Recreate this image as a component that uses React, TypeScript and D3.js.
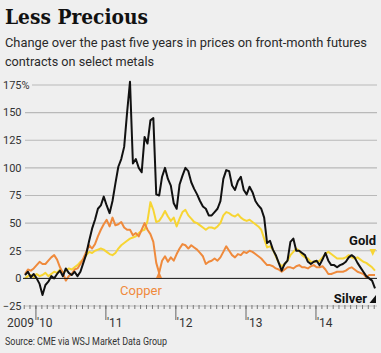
import React from "react";
import * as d3 from "d3";

const START = new Date(2009, 10, 5);
const END = new Date(2014, 10, 5);

const silver = [3, 6, 1, 4, 0, -5, -15, -6, -3, 2, 0, 4, 7, 2, 9, 5, 3, 6, 2, 6,
  14, 22, 34, 45, 53, 63, 66, 74, 66, 59, 70, 86, 101, 108, 119, 150, 178, 104, 108, 100,
  96, 128, 122, 143, 145, 76, 75, 92, 100, 90, 84, 68, 63, 85, 93, 100, 97, 87, 81, 76,
  70, 65, 63, 57, 57, 60, 63, 70, 90, 98, 97, 84, 80, 88, 92, 80, 76, 83, 78, 70,
  66, 63, 55, 32, 34, 26, 21, 14, 7, 13, 16, 33, 36, 25, 25, 23, 21, 15, 13, 15,
  16, 12, 17, 23, 16, 12, 12, 10, 12, 13, 15, 19, 21, 19, 14, 10, 6, 2, 0, -2, -9];

const gold = [0, 2, 3, 1, 4, 2, 3, 5, 2, 4, 6, 5, 8, 5, 7, 9, 8, 10, 12, 15,
  17, 21, 24, 23, 25, 26, 27, 26, 24, 22, 21, 23, 27, 30, 32, 34, 36, 37, 38, 41,
  43, 44, 52, 69, 62, 51, 52, 56, 61, 56, 52, 55, 47, 54, 60, 62, 57, 54, 51, 50,
  48, 46, 44, 46, 46, 45, 47, 50, 57, 60, 59, 57, 56, 58, 55, 53, 52, 53, 51, 49,
  47, 44, 36, 28, 29, 26, 20, 14, 11, 13, 16, 21, 24, 27, 25, 21, 19, 18, 15, 15,
  15, 16, 19, 22, 24, 22, 20, 18, 18, 18, 19, 21, 19, 18, 19, 17, 15, 14, 12, 10, 7];

const copper = [4, 8, 7, 9, 12, 15, 13, 13, 16, 19, 21, 17, 10, 5, -2, 2, 4, 8, 9, 13,
  18, 24, 30, 27, 31, 38, 44, 49, 53, 47, 55, 48, 49, 51, 46, 44, 44, 39, 41, 38,
  44, 50, 44, 40, 33, 14, 5, 16, 20, 15, 19, 16, 22, 27, 31, 30, 27, 30, 28, 26,
  23, 20, 13, 15, 16, 18, 16, 19, 24, 29, 25, 21, 19, 22, 21, 24, 23, 25, 24, 22,
  20, 18, 15, 12, 12, 11, 9, 8, 6, 8, 10, 10, 9, 11, 12, 10, 10, 9, 11, 12,
  10, 10, 11, 8, 4, 4, 5, 6, 6, 6, 7, 9, 10, 8, 6, 5, 4, 1, 3, 3, 3];

const yTicks = [175, 150, 125, 100, 75, 50, 25, 0, -25];
const yearTicks = [2010, 2011, 2012, 2013, 2014];
const yearLabels = ["'10", "'11", "'12", "'13", "'14"];

const W = 381;
const H = 353;
const BG = "#efefef";
const GOLD = "#f7d533";
const COPPER = "#ef8a3c";
const SILVER = "#111111";
const NARROW = "'Liberation Sans Narrow', 'Roboto', sans-serif";

export default function App() {
  const x = d3.scaleTime().domain([START, END]).range([25, 375]);
  const y = d3.scaleLinear().domain([-25, 175]).range([306, 85]);
  const n = silver.length;
  const dates = silver.map((_, i) =>
    new Date(START.getTime() + ((END.getTime() - START.getTime()) * i) / (n - 1))
  );
  const line = d3
    .line<number>()
    .x((_, i) => x(dates[i]))
    .y((d) => y(d))
    .curve(d3.curveLinear);
  const months = d3.timeMonth.range(new Date(2009, 10, 1), new Date(2014, 10, 30));

  return (
    <svg
      width={W}
      height={H}
      style={{ position: "fixed", left: 0, top: 0, display: "block", background: BG }}
    >
      <rect width={W} height={H} fill={BG} />
      <text x={5} y={24} fontFamily="'DejaVu Serif', serif" fontWeight="bold" fontSize={20}
        textLength={143} lengthAdjust="spacingAndGlyphs" fill="#111">
        Less Precious
      </text>
      <text x={5} y={47} fontFamily={NARROW} fontSize={13} fill="#2a2a2a"
        textLength={362} lengthAdjust="spacingAndGlyphs">
        Change over the past five years in prices on front-month futures
      </text>
      <text x={5} y={66} fontFamily={NARROW} fontSize={13} fill="#2a2a2a"
        textLength={149} lengthAdjust="spacingAndGlyphs">
        contracts on select metals
      </text>

      {yTicks.filter((t) => t !== 0 && t !== -25).map((t) => (
        <line key={"g" + t} x1={t === 175 ? 32 : 25} x2={377} y1={y(t)} y2={y(t)}
          stroke="#b9b9b9" strokeWidth={1.2} />
      ))}
      {yTicks.map((t) => (
        <text key={"l" + t} x={21.5} y={y(t)} dy="0.35em" textAnchor="end"
          fontFamily={NARROW} fontSize={11} fill="#333">
          {t < 0 ? "\u2212" + Math.abs(t) : t}
        </text>
      ))}
      <text x={21.5} y={y(175)} dy="0.35em" fontFamily={NARROW} fontSize={11} fill="#333">%</text>

      <line x1={25} x2={377} y1={y(-25)} y2={y(-25)} stroke="#bbb" strokeWidth={1} />
      {months.map((m, i) => (
        <line key={"m" + i} x1={x(m)} x2={x(m)} y1={y(-25) - 1} y2={y(-25) + 3}
          stroke="#777" strokeWidth={1} />
      ))}
      {yearTicks.map((yr, i) => {
        const xx = x(new Date(yr, 0, 1));
        return (
          <g key={"y" + yr}>
            <line x1={xx} x2={xx} y1={y(-25)} y2={y(-25) + 14} stroke="#666" strokeWidth={1} />
            <text x={xx + 1} y={327} fontFamily={NARROW} fontSize={12} fill="#333">
              {yearLabels[i]}
            </text>
          </g>
        );
      })}
      <text x={x(new Date(2010, 0, 1)) - 2} y={327} textAnchor="end" fontFamily={NARROW}
        fontSize={12} fill="#333">
        2009
      </text>

      <path d={line(gold) || ""} fill="none" stroke={GOLD} strokeWidth={2} strokeLinejoin="round" />
      <path d={line(copper) || ""} fill="none" stroke={COPPER} strokeWidth={2} strokeLinejoin="round" />
      <line x1={23} x2={377} y1={y(0)} y2={y(0)} stroke="#111" strokeWidth={1} />
      <path d={line(silver) || ""} fill="none" stroke={SILVER} strokeWidth={2} strokeLinejoin="round" />

      <text x={376} y={245} textAnchor="end" fontFamily="'Roboto', sans-serif" fontWeight="bold"
        fontSize={13} fill="#111">Gold</text>
      <path d="M369.5,249 L376,249 L372.75,256 Z" fill={GOLD} />
      <text x={367} y={303} textAnchor="end" fontFamily="'Roboto', sans-serif" fontWeight="bold"
        fontSize={13} fill="#111">Silver</text>
      <path d="M369.5,303 L376,303 L376,295 Z" fill="#111" />
      <text x={141} y={295} textAnchor="middle" fontFamily="'Roboto', sans-serif"
        fontSize={13} fill={COPPER}>Copper</text>
      <path d="M156,278 L162,278 L159,271 Z" fill={COPPER} />

      <text x={5} y={345} fontFamily={NARROW} fontSize={11.5} fill="#333"
        textLength={162} lengthAdjust="spacingAndGlyphs">
        Source: CME via WSJ Market Data Group
      </text>
    </svg>
  );
}
